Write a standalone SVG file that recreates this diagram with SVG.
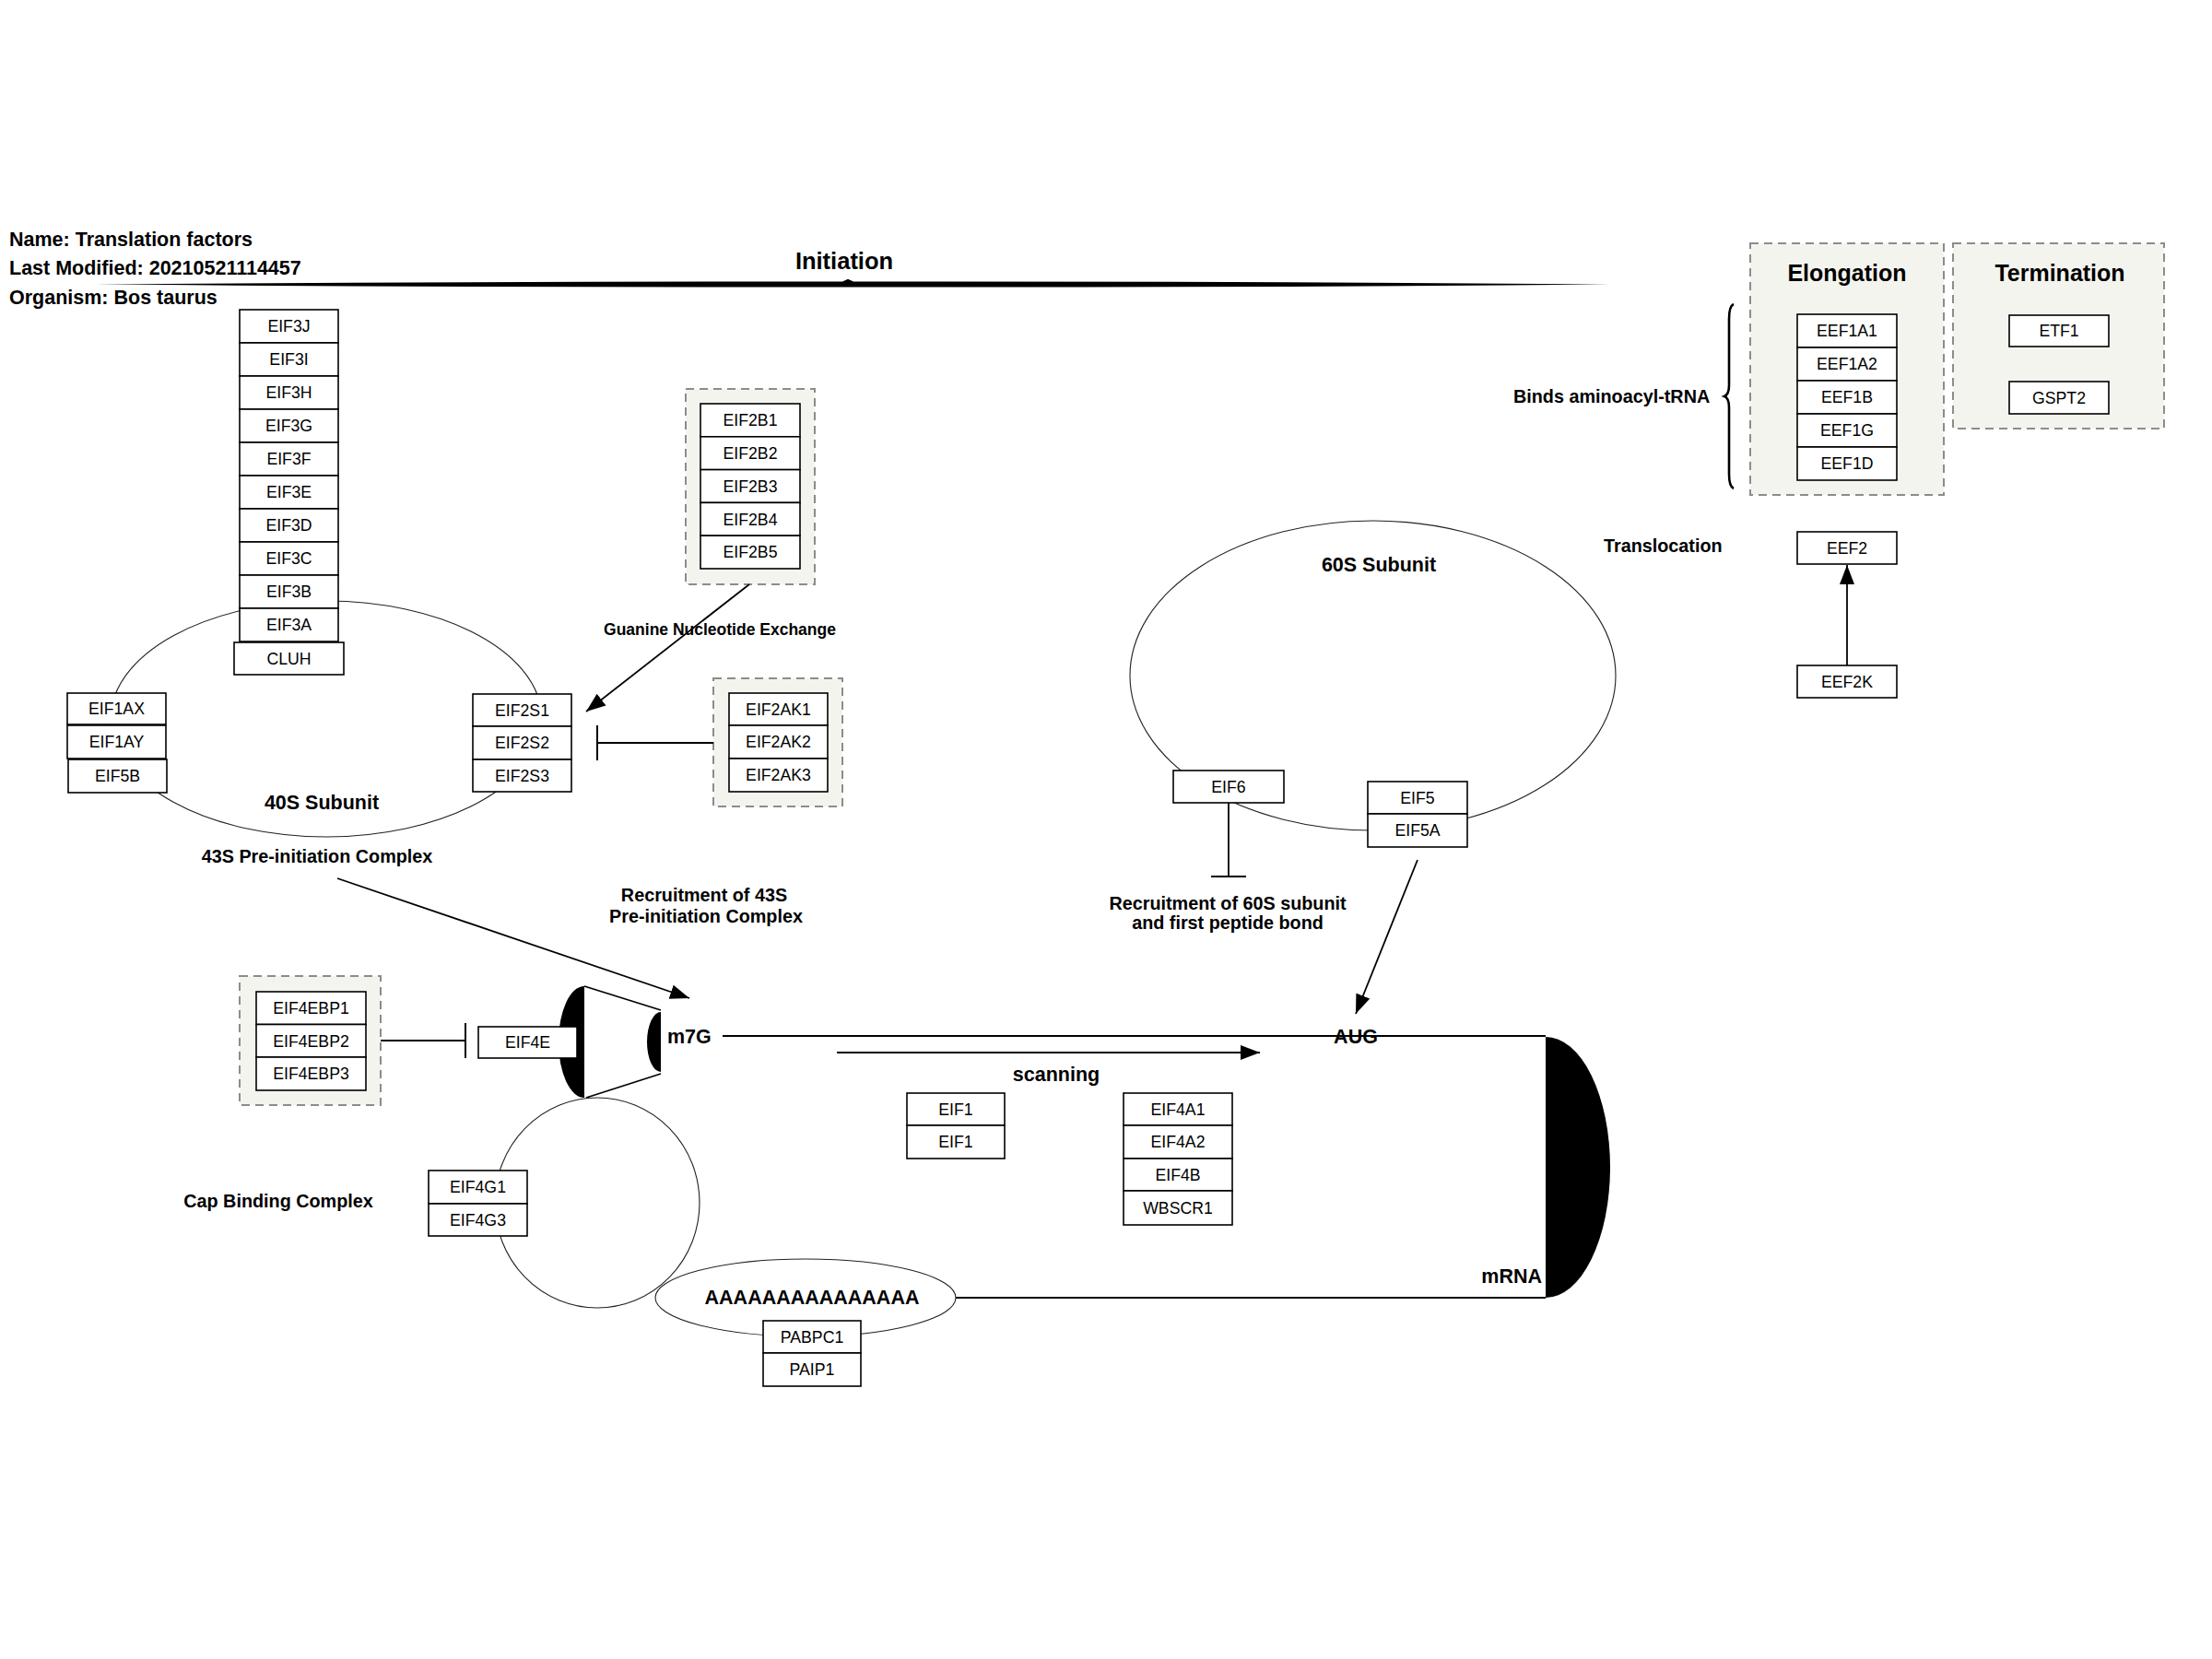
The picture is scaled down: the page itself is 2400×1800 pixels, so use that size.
<svg xmlns="http://www.w3.org/2000/svg" width="2400" height="1800" viewBox="0 0 2400 1800">
<style>
text{font-family:"Liberation Sans",Arial,sans-serif;fill:#000}
.n rect{fill:#fff;stroke:#000;stroke-width:1.6}
.n text{font-size:17.7px;text-anchor:middle}
.grp{fill:#f4f4ee;stroke:#8c8c8c;stroke-width:2;stroke-dasharray:9 6}
.sh{fill:none;stroke:#222;stroke-width:1.1}
.c{fill:none;stroke:#000;stroke-width:1.8}
.b{font-weight:bold}
.l22{font-size:21.5px}
.l20{font-size:19.8px}
.l18{font-size:17.5px}
.mid{text-anchor:middle}
.end{text-anchor:end}
</style>
<defs>
<marker id="arr" markerUnits="userSpaceOnUse" markerWidth="22" markerHeight="18" refX="21" refY="9" orient="auto"><path d="M0,1 L21,9 L0,17 Z" fill="#000"/></marker>
<marker id="tbar" markerUnits="userSpaceOnUse" markerWidth="4" markerHeight="38" refX="2" refY="19" orient="auto"><path d="M2,0 L2,38" stroke="#000" stroke-width="2"/></marker>
</defs>
<rect width="2400" height="1800" fill="#fff"/>

<g id="header">
<text class="b" x="10" y="267" style="font-size:21.5px">Name: Translation factors</text>
<text class="b" x="10" y="298" style="font-size:21.5px">Last Modified: 20210521114457</text>
<text class="b" x="10" y="330" style="font-size:21.5px">Organism: Bos taurus</text>
</g>

<g id="shapes">
<path id="initiation-brace" d="M104,308.6 Q512,305.2 914,305.5 L920,302.8 L926,305.5 Q1336,305 1746,308.6 Q1336,312.2 926,311.4 L914,311.4 Q512,312 104,308.6 Z" fill="#000"/>
<path id="elong-brace" d="M1881,330 Q1876,332 1876,346 L1876,418 Q1876,428 1871,430 Q1876,432 1876,442 L1876,514 Q1876,528 1881,530" fill="none" stroke="#000" stroke-width="2.6"/>
<ellipse id="subunit-40S" class="sh" cx="354" cy="780" rx="234" ry="128"/>
<ellipse id="subunit-60S" class="sh" cx="1489.5" cy="733" rx="263.5" ry="168"/>
<ellipse id="cap-complex" class="sh" cx="648" cy="1305" rx="111" ry="114"/>
<ellipse id="polyA" class="sh" cx="874" cy="1408" rx="163" ry="42"/>
<path id="cap-large" d="M634,1070 A28,60.5 0 0,0 634,1191 Z" fill="#000"/>
<path id="cap-small" d="M717,1098 A15,32.5 0 0,0 717,1163 Z" fill="#000"/>
<path d="M634,1070 L717,1096 M636,1191 L717,1165" stroke="#000" stroke-width="1.8" fill="none"/>
<path id="mrna" d="M784,1124 L1677,1124 M1037,1408 L1677,1408" stroke="#000" stroke-width="1.8" fill="none"/>
<path id="mrna-cap" d="M1677,1125 A70,141.5 0 0,1 1677,1408 Z" fill="#000"/>
</g>

<g id="groups">
<rect id="grp-EIF2B" class="grp" x="744" y="422" width="140" height="212"/>
<rect id="grp-EIF2AK" class="grp" x="774" y="736" width="140" height="139"/>
<rect id="grp-EIF4EBP" class="grp" x="260" y="1059" width="153" height="140"/>
<rect id="grp-Elongation" class="grp" x="1899" y="264" width="210" height="273"/>
<rect id="grp-Termination" class="grp" x="2119" y="264" width="229" height="201"/>
</g>

<g id="connectors">
<line class="c" x1="366" y1="953" x2="748" y2="1083" marker-end="url(#arr)"/>
<line class="c" x1="813" y1="634" x2="636" y2="772" marker-end="url(#arr)"/>
<line class="c" x1="774" y1="806" x2="648" y2="806" marker-end="url(#tbar)"/>
<line class="c" x1="413" y1="1129" x2="505" y2="1129" marker-end="url(#tbar)"/>
<line class="c" x1="1333" y1="871" x2="1333" y2="951" marker-end="url(#tbar)"/>
<line class="c" x1="1538" y1="933" x2="1471" y2="1100" marker-end="url(#arr)"/>
<line class="c" x1="908" y1="1142" x2="1367" y2="1142" marker-end="url(#arr)"/>
<line class="c" x1="2004" y1="722" x2="2004" y2="613" marker-end="url(#arr)"/>
</g>

<g id="node-EIF3J" class="n"><rect x="260" y="336" width="107" height="36"/><text x="313.5" y="360.3">EIF3J</text></g>
<g id="node-EIF3I" class="n"><rect x="260" y="372" width="107" height="36"/><text x="313.5" y="396.3">EIF3I</text></g>
<g id="node-EIF3H" class="n"><rect x="260" y="408" width="107" height="36"/><text x="313.5" y="432.3">EIF3H</text></g>
<g id="node-EIF3G" class="n"><rect x="260" y="444" width="107" height="36"/><text x="313.5" y="468.3">EIF3G</text></g>
<g id="node-EIF3F" class="n"><rect x="260" y="480" width="107" height="36"/><text x="313.5" y="504.3">EIF3F</text></g>
<g id="node-EIF3E" class="n"><rect x="260" y="516" width="107" height="36"/><text x="313.5" y="540.3">EIF3E</text></g>
<g id="node-EIF3D" class="n"><rect x="260" y="552" width="107" height="36"/><text x="313.5" y="576.3">EIF3D</text></g>
<g id="node-EIF3C" class="n"><rect x="260" y="588" width="107" height="36"/><text x="313.5" y="612.3">EIF3C</text></g>
<g id="node-EIF3B" class="n"><rect x="260" y="624" width="107" height="36"/><text x="313.5" y="648.3">EIF3B</text></g>
<g id="node-EIF3A" class="n"><rect x="260" y="660" width="107" height="36"/><text x="313.5" y="684.3">EIF3A</text></g>
<g id="node-CLUH" class="n"><rect x="254" y="697" width="119" height="35"/><text x="313.5" y="720.8">CLUH</text></g>

<g id="node-EIF1AX" class="n"><rect x="73" y="752" width="107" height="34"/><text x="126.5" y="775.3">EIF1AX</text></g>
<g id="node-EIF1AY" class="n"><rect x="73" y="787" width="107" height="36"/><text x="126.5" y="811.3">EIF1AY</text></g>
<g id="node-EIF5B" class="n"><rect x="74" y="824" width="107" height="36"/><text x="127.5" y="848.3">EIF5B</text></g>

<g id="node-EIF2S1" class="n"><rect x="513" y="753" width="107" height="35"/><text x="566.5" y="776.8">EIF2S1</text></g>
<g id="node-EIF2S2" class="n"><rect x="513" y="788" width="107" height="36"/><text x="566.5" y="812.3">EIF2S2</text></g>
<g id="node-EIF2S3" class="n"><rect x="513" y="824" width="107" height="35"/><text x="566.5" y="847.8">EIF2S3</text></g>

<g id="node-EIF2B1" class="n"><rect x="760" y="438" width="108" height="35.8"/><text x="814" y="462.2">EIF2B1</text></g>
<g id="node-EIF2B2" class="n"><rect x="760" y="473.8" width="108" height="35.8"/><text x="814" y="498">EIF2B2</text></g>
<g id="node-EIF2B3" class="n"><rect x="760" y="509.6" width="108" height="35.8"/><text x="814" y="533.8">EIF2B3</text></g>
<g id="node-EIF2B4" class="n"><rect x="760" y="545.4" width="108" height="35.8"/><text x="814" y="569.6">EIF2B4</text></g>
<g id="node-EIF2B5" class="n"><rect x="760" y="581.2" width="108" height="35.8"/><text x="814" y="605.4">EIF2B5</text></g>

<g id="node-EIF2AK1" class="n"><rect x="791" y="752" width="107" height="35"/><text x="844.5" y="775.8">EIF2AK1</text></g>
<g id="node-EIF2AK2" class="n"><rect x="791" y="787" width="107" height="36"/><text x="844.5" y="811.3">EIF2AK2</text></g>
<g id="node-EIF2AK3" class="n"><rect x="791" y="823" width="107" height="36"/><text x="844.5" y="847.3">EIF2AK3</text></g>

<g id="node-EIF4EBP1" class="n"><rect x="278" y="1076" width="119" height="35.5"/><text x="337.5" y="1100">EIF4EBP1</text></g>
<g id="node-EIF4EBP2" class="n"><rect x="278" y="1111.5" width="119" height="35.5"/><text x="337.5" y="1135.5">EIF4EBP2</text></g>
<g id="node-EIF4EBP3" class="n"><rect x="278" y="1147" width="119" height="36"/><text x="337.5" y="1171.3">EIF4EBP3</text></g>

<g id="node-EIF4E" class="n"><rect x="519" y="1114" width="107" height="34"/><text x="572.5" y="1137.3">EIF4E</text></g>
<g id="node-EIF4G1" class="n"><rect x="465" y="1270" width="107" height="36"/><text x="518.5" y="1294.3">EIF4G1</text></g>
<g id="node-EIF4G3" class="n"><rect x="465" y="1306" width="107" height="35"/><text x="518.5" y="1329.8">EIF4G3</text></g>

<g id="node-PABPC1" class="n"><rect x="828" y="1433" width="106" height="35"/><text x="881" y="1456.8">PABPC1</text></g>
<g id="node-PAIP1" class="n"><rect x="828" y="1468" width="106" height="36"/><text x="881" y="1492.3">PAIP1</text></g>

<g id="node-EIF1-a" class="n"><rect x="984" y="1186" width="106" height="35"/><text x="1037" y="1209.8">EIF1</text></g>
<g id="node-EIF1-b" class="n"><rect x="984" y="1221" width="106" height="36"/><text x="1037" y="1245.3">EIF1</text></g>

<g id="node-EIF4A1" class="n"><rect x="1219" y="1186" width="118" height="35"/><text x="1278" y="1209.8">EIF4A1</text></g>
<g id="node-EIF4A2" class="n"><rect x="1219" y="1221" width="118" height="36"/><text x="1278" y="1245.3">EIF4A2</text></g>
<g id="node-EIF4B" class="n"><rect x="1219" y="1257" width="118" height="35"/><text x="1278" y="1280.8">EIF4B</text></g>
<g id="node-WBSCR1" class="n"><rect x="1219" y="1292" width="118" height="37"/><text x="1278" y="1316.8">WBSCR1</text></g>

<g id="node-EIF6" class="n"><rect x="1273" y="836" width="120" height="35"/><text x="1333" y="859.8">EIF6</text></g>
<g id="node-EIF5" class="n"><rect x="1484" y="848" width="108" height="35"/><text x="1538" y="871.8">EIF5</text></g>
<g id="node-EIF5A" class="n"><rect x="1484" y="883" width="108" height="36"/><text x="1538" y="907.3">EIF5A</text></g>

<g id="node-EEF1A1" class="n"><rect x="1950" y="341" width="108" height="36"/><text x="2004" y="365.3">EEF1A1</text></g>
<g id="node-EEF1A2" class="n"><rect x="1950" y="377" width="108" height="36"/><text x="2004" y="401.3">EEF1A2</text></g>
<g id="node-EEF1B" class="n"><rect x="1950" y="413" width="108" height="36"/><text x="2004" y="437.3">EEF1B</text></g>
<g id="node-EEF1G" class="n"><rect x="1950" y="449" width="108" height="36"/><text x="2004" y="473.3">EEF1G</text></g>
<g id="node-EEF1D" class="n"><rect x="1950" y="485" width="108" height="36"/><text x="2004" y="509.3">EEF1D</text></g>

<g id="node-ETF1" class="n"><rect x="2180" y="342" width="108" height="34"/><text x="2234" y="365.3">ETF1</text></g>
<g id="node-GSPT2" class="n"><rect x="2180" y="414" width="108" height="35"/><text x="2234" y="437.8">GSPT2</text></g>

<g id="node-EEF2" class="n"><rect x="1950" y="577" width="108" height="35"/><text x="2004" y="600.8">EEF2</text></g>
<g id="node-EEF2K" class="n"><rect x="1950" y="722" width="108" height="35"/><text x="2004" y="745.8">EEF2K</text></g>

<g id="labels">
<text class="b mid" x="916" y="292" style="font-size:25.5px">Initiation</text>
<text class="b mid" x="2004" y="305" style="font-size:25px">Elongation</text>
<text class="b mid" x="2235" y="305" style="font-size:25px">Termination</text>
<text class="b mid l22" x="349" y="878">40S Subunit</text>
<text class="b mid l20" x="344" y="936">43S Pre-initiation Complex</text>
<text class="b mid l18" x="781" y="689">Guanine Nucleotide Exchange</text>
<text class="b mid l20" x="764" y="978">Recruitment of 43S</text>
<text class="b mid l20" x="766" y="1001">Pre-initiation Complex</text>
<text class="b mid l20" x="302" y="1310">Cap Binding Complex</text>
<text class="b l22" x="724" y="1132">m7G</text>
<text class="b mid l22" x="1146" y="1173">scanning</text>
<text class="b mid l22" x="1471" y="1132">AUG</text>
<text class="b end l22" x="1673" y="1392">mRNA</text>
<text class="b mid l22" x="881" y="1415">AAAAAAAAAAAAAAA</text>
<text class="b mid l22" x="1496" y="620">60S Subunit</text>
<text class="b mid l20" x="1332" y="987">Recruitment of 60S subunit</text>
<text class="b mid l20" x="1332" y="1008">and first peptide bond</text>
<text class="b l20" x="1642" y="437">Binds aminoacyl-tRNA</text>
<text class="b l20" x="1740" y="599">Translocation</text>
</g>
</svg>
